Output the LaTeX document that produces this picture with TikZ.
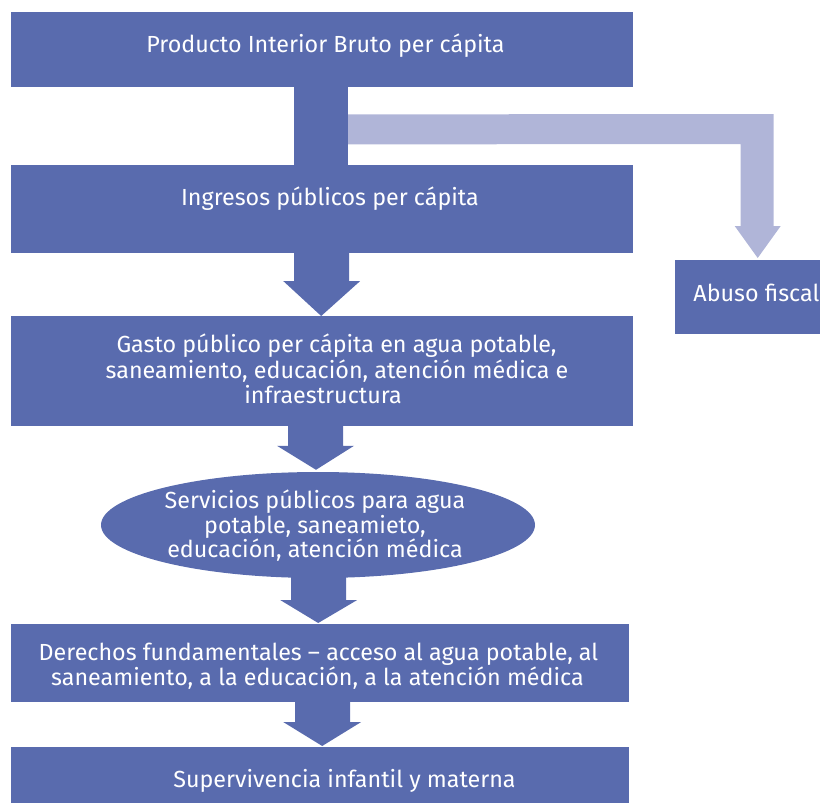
\documentclass[tikz,border=0pt]{standalone}
\usepackage{fontspec}
\setmainfont{Fira Sans}
\usetikzlibrary{shapes.geometric,calc}
\definecolor{boxblue}{RGB}{89,107,174}
\definecolor{lightblue}{RGB}{176,181,216}
\begin{document}
\begin{tikzpicture}[x=1pt,y=-1pt,
  box/.style={fill=boxblue, draw=none, inner sep=0pt, anchor=north west},
  txt/.style={text=white, font=\fontsize{23.3}{26}\selectfont, inner sep=0pt, anchor=base},
  darkarrow/.style={fill=boxblue},
  lightarrow/.style={fill=lightblue}
]
\useasboundingbox (0,0) rectangle (820,803);
% boxes
\node[box, minimum width=622pt, minimum height=75pt] (b1) at (11,12) {};
\node[box, minimum width=622pt, minimum height=88pt] (b2) at (11,165) {};
\node[box, minimum width=622pt, minimum height=110pt] (b3) at (11,316) {};
\node[ellipse, fill=boxblue, inner sep=0pt, minimum width=434pt, minimum height=106pt] (ell) at (318,525) {};
\node[box, minimum width=618pt, minimum height=78pt] (b5) at (11,624) {};
\node[box, minimum width=618pt, minimum height=60pt] (b6) at (11,747) {};
\node[box, minimum width=150pt, minimum height=74pt] (ab) at (675,260) {};
% connectors
\fill[darkarrow] ($(b1.south)+(-28,-1)$) rectangle ($(b2.north)+(26,1)$);
\coordinate (ls) at ($(b1.south)+(26,27)$);
\fill[lightarrow] (ls) -- ($(ab.north)+(23.5,-146)$) -- ($(ab.north)+(23.5,-34)$)
  -- ($(ab.north)+(30.5,-34)$) -- ($(ab.north)+(7.5,-2)$) -- ($(ab.north)+(-15.5,-34)$)
  -- ($(ab.north)+(-9.5,-34)$) -- ($(ab.north)+(-9.5,-116)$) -- ($(ls)+(0,30)$) -- cycle;
\fill[darkarrow] ($(b2.south)+(-28,-1)$) -- ($(b2.south)+(27,-1)$) -- ($(b3.north)+(27,-35)$)
  -- ($(b3.north)+(38,-35)$) -- ($(b3.north)+(-1,0)$) -- ($(b3.north)+(-39,-35)$)
  -- ($(b3.north)+(-28,-35)$) -- cycle;
\fill[darkarrow] ($(b3.south)+(-34,-1)$) -- ($(b3.south)+(21,-1)$) -- ($(ell.north)+(25,-26)$)
  -- ($(ell.north)+(36,-26)$) -- ($(ell.north)+(-2,-2)$) -- ($(ell.north)+(-41,-26)$)
  -- ($(ell.north)+(-30,-26)$) -- cycle;
\fill[darkarrow] ($(ell.south)+(-27,-3)$) -- ($(ell.south)+(28,-3)$) -- ($(b5.north)+(26,-24)$)
  -- ($(b5.north)+(37,-24)$) -- ($(b5.north)+(-2,-1)$) -- ($(b5.north)+(-40,-24)$)
  -- ($(b5.north)+(-29,-24)$) -- cycle;
\fill[darkarrow] ($(b5.south)+(-25,-1)$) -- ($(b5.south)+(30,-1)$) -- ($(b6.north)+(30,-25)$)
  -- ($(b6.north)+(41,-25)$) -- ($(b6.north)+(2,-1)$) -- ($(b6.north)+(-37,-25)$)
  -- ($(b6.north)+(-25,-25)$) -- cycle;
% texts
\node[txt] (t1) at (325.5,52.5) {Producto Interior Bruto per cápita};
\node[txt] (t2) at (330,205) {Ingresos públicos per cápita};
\node[txt] (t3a) at (336.5,352) {Gasto público per cápita en agua potable,};
\node[txt] (t3b) at (337,378) {saneamiento, educación, atención médica e};
\node[txt] (t3c) at (323,403) {infraestructura};
\node[txt] (t4a) at (315,508) {Servicios públicos para agua};
\node[txt] (t4b) at (315,533) {potable, saneamieto,};
\node[txt] (t4c) at (315,557.5) {educación, atención médica};
\node[txt] (t5a) at (318.5,660) {Derechos fundamentales – acceso al agua potable, al};
\node[txt] (t5b) at (317.5,685.5) {saneamiento, a la educación, a la atención médica};
\node[txt] (t6) at (344.5,787.5) {Supervivencia infantil y materna};
\node[txt, anchor=base east] (t7) at (819.5,301.5) {Abuso fiscal};
\end{tikzpicture}
\end{document}
